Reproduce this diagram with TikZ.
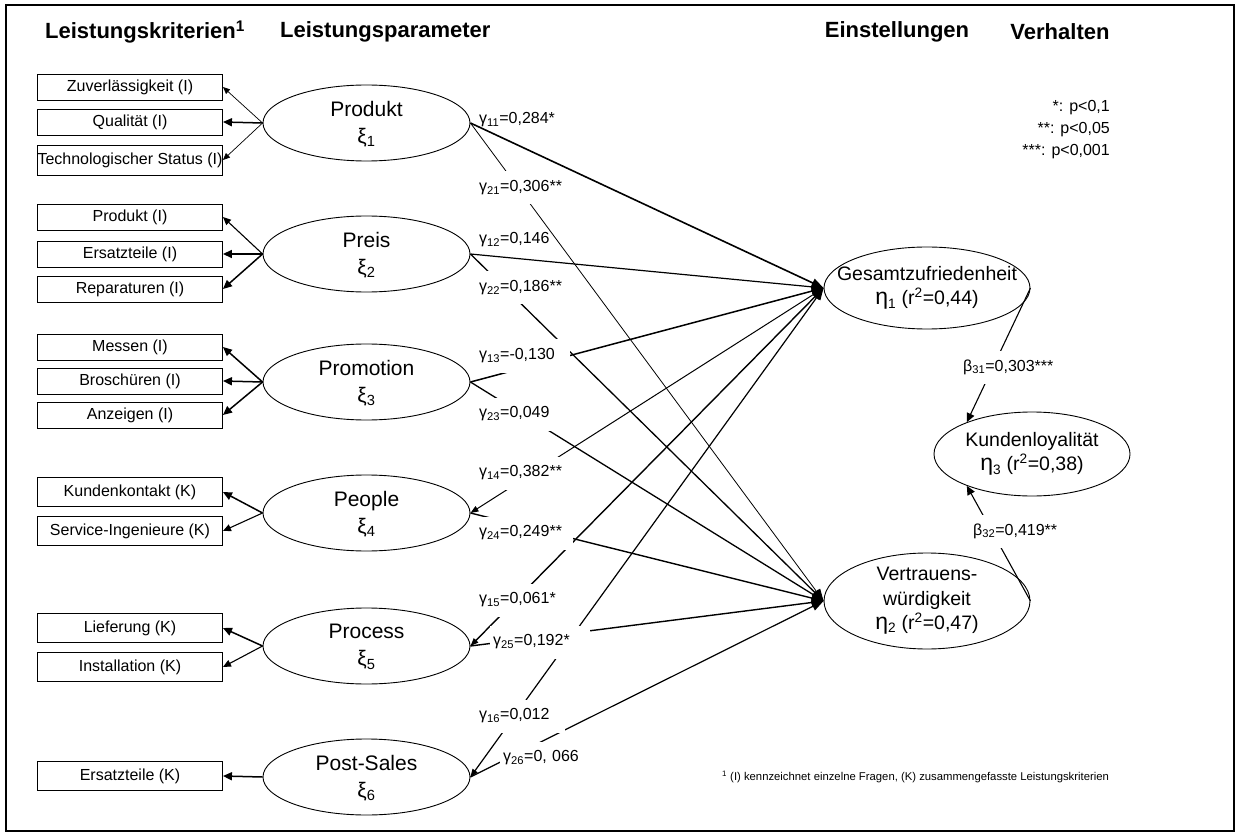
\documentclass[tikz,border=0pt]{standalone}
\usepackage{fontspec}
\setmainfont{Liberation Sans}
\usetikzlibrary{shapes.geometric,arrows.meta}
\begin{document}
\begin{tikzpicture}[x=1pt,y=-1pt,
  crit/.style={draw, line width=0.9pt, minimum width=185pt, minimum height=26pt, inner sep=0pt, font=\fontsize{16}{18}\selectfont},
  critk/.style={crit, minimum height=29pt},
  latent/.style={ellipse, draw, line width=0.9pt, inner sep=0pt},
  lname/.style={align=center, inner sep=0pt, font=\fontsize{21}{27}\selectfont},
  rname/.style={align=center, inner sep=0pt, font=\fontsize{19.5}{24.5}\selectfont},
  ind/.style={-{Triangle[length=9pt,width=8pt]}, line width=1.5pt},
  indm/.style={-{Triangle[length=8pt,width=7pt]}, line width=1.1pt},
  indthin/.style={-{Triangle[length=7pt,width=6pt]}, line width=0.7pt},
  sline/.style={-{Triangle[length=12pt,width=9pt]}, line width=1.3pt},
  slineback/.style={{Triangle[length=8pt,width=6pt]}-{Triangle[length=12pt,width=9pt]}, line width=1.3pt},
  coef/.style={anchor=west, fill=white, inner xsep=3pt, inner ysep=0pt, minimum height=33pt, align=left, font=\fontsize{16}{18}\selectfont},
  hdr/.style={font=\fontsize{22}{26}\selectfont\bfseries, inner sep=0pt},
  small/.style={inner sep=0pt, font=\fontsize{16}{22}\selectfont},
]
\useasboundingbox (0,0) rectangle (1237,834);

% column headings
\node[hdr, anchor=west] (h1) at (45,32) {Leistungskriterien\textsuperscript{1}};
\node[hdr, anchor=west] (h2) at (280,32) {Leistungsparameter};
\node[hdr] (h3) at (897,32) {Einstellungen};
\node[hdr] (h4) at (1060,32) {Verhalten};

% performance criteria (indicators)
\node[crit] (k1) at (130,87) {Zuverlässigkeit (I)};
\node[crit] (k2) at (130,122) {Qualität (I)};
\node[crit, minimum height=30pt] (k3) at (130,160) {\makebox[185pt]{Technologischer Status (I)}};
\node[crit] (k4) at (130,217) {Produkt (I)};
\node[crit] (k5) at (130,254) {Ersatzteile (I)};
\node[crit] (k6) at (130,289) {Reparaturen (I)};
\node[crit] (k7) at (130,347) {Messen (I)};
\node[crit] (k8) at (130,381) {Broschüren (I)};
\node[crit] (k9) at (130,415) {Anzeigen (I)};
\node[critk] (k10) at (130,492) {Kundenkontakt (K)};
\node[critk] (k11) at (130,531) {Service-Ingenieure (K)};
\node[critk] (k12) at (130,628) {Lieferung (K)};
\node[critk] (k13) at (130,667) {Installation (K)};
\node[critk] (k14) at (130,776) {Ersatzteile (K)};

% performance parameters (exogenous constructs)
\foreach \n/\y in {1/123,2/254,3/382,4/513,5/646,6/777}
  \node[latent, minimum width=207pt, minimum height=76pt] (xi\n) at (366.5,\y) {};
\node[lname] (t1) at ([yshift=-1pt]xi1) {Produkt\\ξ\textsubscript{1}};
\node[lname] (t2) at ([yshift=-1pt]xi2) {Preis\\ξ\textsubscript{2}};
\node[lname] (t3) at ([yshift=-1pt]xi3) {Promotion\\ξ\textsubscript{3}};
\node[lname] (t4) at ([yshift=-1pt]xi4) {People\\ξ\textsubscript{4}};
\node[lname] (t5) at ([yshift=-1pt]xi5) {Process\\ξ\textsubscript{5}};
\node[lname] (t6) at ([yshift=-1pt]xi6) {Post-Sales\\ξ\textsubscript{6}};

% attitudes and behaviour (endogenous constructs)
\node[latent, minimum width=206pt, minimum height=82pt] (eta1) at (927,288) {};
\node[latent, minimum width=196pt, minimum height=84pt] (eta3) at (1032,454) {};
\node[latent, minimum width=206pt, minimum height=96pt] (eta2) at (927,601) {};
\node[rname] (r1) at (eta1) {Gesamtzufriedenheit\\{\fontsize{23}{24}\selectfont η}\textsubscript{1} (r\textsuperscript{2}=0,44)};
\node[rname] (r3) at (eta3) {Kundenloyalität\\{\fontsize{23}{24}\selectfont η}\textsubscript{3} (r\textsuperscript{2}=0,38)};
\node[rname] (r2) at (eta2) {Vertrauens-\\würdigkeit\\{\fontsize{23}{24}\selectfont η}\textsubscript{2} (r\textsuperscript{2}=0,47)};

% measurement arrows
\draw[indthin] (xi1.west) -- (k1.east);
\draw[ind] (xi1.west) -- (k2.east);
\draw[indthin] (xi1.west) -- (k3.east);
\draw[indm] (xi2.west) -- (k4.east);
\draw[ind] (xi2.west) -- (k5.east);
\draw[ind] (xi2.west) -- (k6.east);
\draw[ind] (xi3.west) -- (k7.east);
\draw[ind] (xi3.west) -- (k8.east);
\draw[ind] (xi3.west) -- (k9.east);
\draw[ind] (xi4.west) -- (k10.east);
\draw[indm] (xi4.west) -- (k11.east);
\draw[ind] (xi5.west) -- (k12.east);
\draw[indm] (xi5.west) -- (k13.east);
\draw[ind] (xi6.west) -- (k14.east);

% structural paths
\draw[sline, line width=1.6pt] (xi1.east) -- (eta1.west);
\draw[sline, line width=0.8pt] (xi1.east) -- (eta2.west);
\draw[sline, line width=1.2pt] (xi2.east) -- (eta1.west);
\draw[sline] (xi2.east) -- (eta2.west);
\draw[sline, line width=1.5pt] (xi3.east) -- (eta1.west);
\draw[sline] (xi3.east) -- (eta2.west);
\draw[slineback, line width=1.0pt] (xi4.east) -- (eta1.west);
\draw[sline, line width=1.4pt] (xi4.east) -- (eta2.west);
\draw[slineback, line width=1.4pt] (xi5.east) -- (eta1.west);
\draw[sline, line width=1.4pt] (xi5.east) -- (eta2.west);
\draw[slineback, line width=1.2pt] (xi6.east) -- (eta1.west);
\draw[sline, line width=1.2pt] (xi6.east) -- (eta2.west);

% path coefficients
\node[coef, fill=none, text width=86pt] (g11) at (476,120) {\mbox{γ\textsubscript{11}=0,284*}};
\node[coef, text width=86pt] (g21) at (476,188) {\mbox{γ\textsubscript{21}=0,306**}};
\node[coef, fill=none, text width=86pt] (g12) at (476,240) {\mbox{γ\textsubscript{12}=0,146}};
\node[coef, text width=88pt] (g22) at (476,288) {\mbox{γ\textsubscript{22}=0,186**}};
\node[coef, text width=88pt] (g13) at (476,356) {\mbox{γ\textsubscript{13}=-0,130}};
\node[coef, text width=86pt] (g23) at (476,414) {\mbox{γ\textsubscript{23}=0,049}};
\node[coef, text width=88pt] (g14) at (476,473) {\mbox{γ\textsubscript{14}=0,382**}};
\node[coef, text width=91pt] (g24) at (476,533) {\mbox{γ\textsubscript{24}=0,249**}};
\node[coef, text width=88pt] (g15) at (476,600) {\mbox{γ\textsubscript{15}=0,061*}};
\node[coef, text width=94pt] (g25) at (490,642) {\mbox{γ\textsubscript{25}=0,192*}};
\node[coef, text width=83pt] (g16) at (476,716) {\mbox{γ\textsubscript{16}=0,012}};
\node[coef, text width=89pt] (g26) at (500,758) {\mbox{γ\textsubscript{26}=0, 066}};

% effects on customer loyalty
\draw[ind, line width=1.1pt] (eta1.east) -- (eta3.154);
\draw[ind, line width=1.1pt] (eta2.east) -- (eta3.206);
\node[coef, text width=96pt] (b31) at (960,367) {\mbox{β\textsubscript{31}=0,303***}};
\node[coef, text width=90pt] (b32) at (970,531) {\mbox{β\textsubscript{32}=0,419**}};

% significance levels
\node[small, anchor=east] (s1) at (1110,108) {*: p<0,1};
\node[small, anchor=east] (s2) at (1110,130) {**: p<0,05};
\node[small, anchor=east] (s3) at (1110,152) {***: p<0,001};

% footnote
\node[inner sep=0pt, anchor=west, font=\fontsize{11.3}{13}\selectfont] (fn) at (722,777)
  {\textsuperscript{1} (I) kennzeichnet einzelne Fragen, (K) zusammengefasste Leistungskriterien};

% frame
\draw[line width=2pt] (6,5) rectangle (1234,831);
\end{tikzpicture}
\end{document}
